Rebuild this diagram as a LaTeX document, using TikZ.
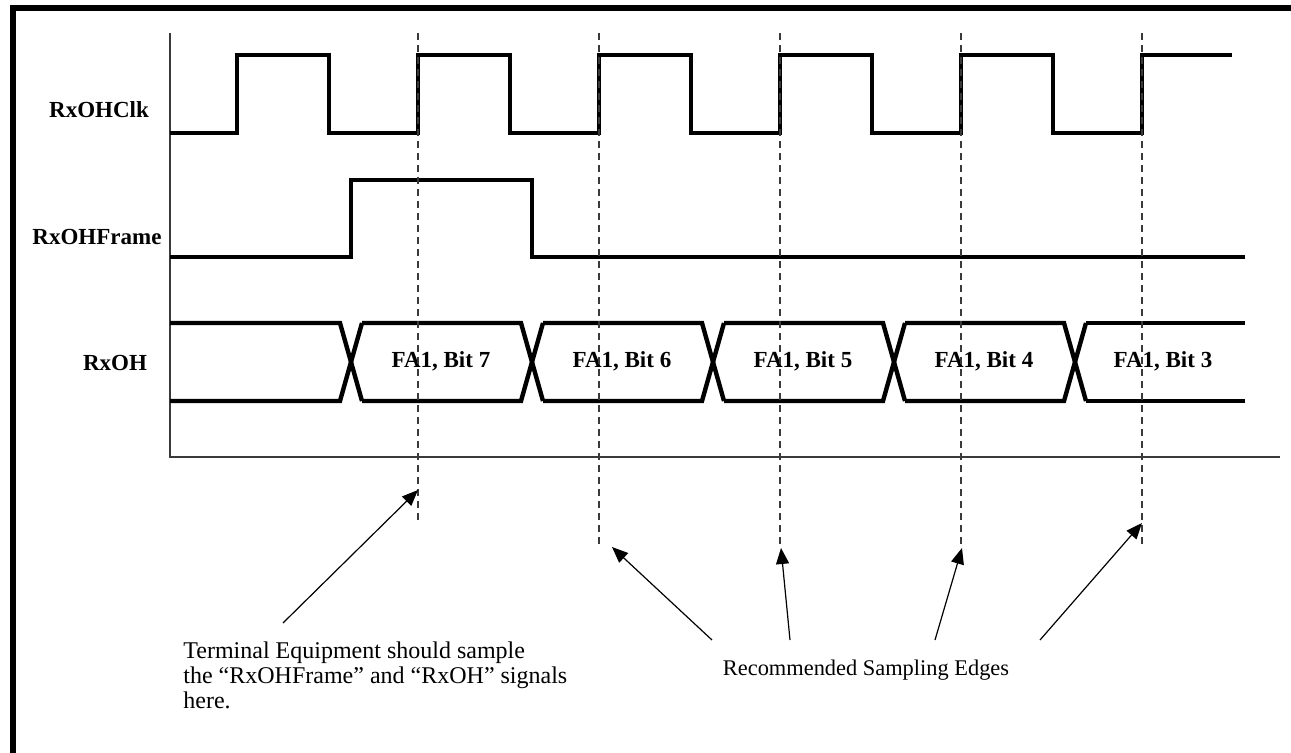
\documentclass[tikz,border=0pt]{standalone}
\usepackage{fontspec}
\setmainfont{Liberation Serif}
\usepackage{tikz}
\usetikzlibrary{arrows.meta}
\definecolor{cnegro}{HTML}{000000}
\definecolor{cgris}{HTML}{3a3a3a}
\tikzset{
  senal/.style={line width=2.2pt, draw=cnegro, line join=miter},
  marco/.style={line width=2.6pt, draw=cnegro},
  eje/.style={line width=0.7pt, draw=cgris},
  guia/.style={line width=0.7pt, draw=cgris, dash pattern=on 3.5pt off 2.5pt},
  flecha/.style={-{Triangle[length=8pt, width=6.5pt]}, line width=0.6pt, draw=cnegro},
  nombre/.style={font=\bfseries\fontsize{11.5}{13}\selectfont, inner sep=0pt},
  nota/.style={font=\fontsize{12}{12.5}\selectfont, align=left, inner sep=0pt},
}

\begin{document}
\begin{tikzpicture}[x=0.5pt, y=-0.5pt]
        \useasboundingbox (0,0) rectangle (1291,753);
        \draw[marco] (13,753) -- (13,8) -- (1291,8);
        \draw[eje] (170,33) -- (170,457) -- (1280,457);

        \node[nombre] (lclk) at (99,110) {RxOHClk};
        \node[nombre] (lframe) at (97,237) {RxOHFrame};
        \node[nombre] (loh) at (115,363) {RxOH};

        \draw[senal] (170,133) foreach \k in {0,...,4} {
          -- ({237+181*\k},133) -- ({237+181*\k},55) -- ({329+181*\k},55) -- ({329+181*\k},133)
        } -- (1142,133) -- (1142,55) -- (1232,55);
        \draw[senal] (170,257) -- (351,257) -- (351,180) -- (532,180) -- (532,257) -- (1245,257);

        \foreach \c/\p in {351/170, 532/362, 713/543, 894/724, 1075/905} {
          \draw[senal] (\p,323) -- ({\c-11},323) -- ({\c+11},401);
          \draw[senal] (\p,401) -- ({\c-11},401) -- ({\c+11},323);
        }
        \draw[senal] (1086,323) -- (1245,323);
        \draw[senal] (1086,401) -- (1245,401);
        \foreach \m/\b in {441/7, 622/6, 803/5, 984/4, 1163/3}
          \node[nombre, anchor=base] (bit\b) at (\m,368) {FA1, Bit \b};

        \foreach \x/\y in {418/520, 599/545, 780/545, 961/545, 1142/547}
          \draw[guia] (\x,33) -- (\x,\y);

        \node[nota, anchor=north west] (nterm) at (183,641)
          {Terminal Equipment should sample\\ the “RxOHFrame” and “RxOH” signals\\ here.};
        \node[nota, font=\fontsize{11.2}{12}\selectfont, anchor=base] (nrec) at (866,675)
          {Recommended Sampling Edges};

        \coordinate (p7) at (418,490);
        \coordinate (p6) at (612,547);
        \coordinate (p5) at (781,548);
        \coordinate (p4) at (962,548);
        \coordinate (p3) at (1142,523);
        \coordinate (tterm) at (283,623);
        \coordinate (t6) at (712,640);
        \coordinate (t5) at (790,640);
        \coordinate (t4) at (935,640);
        \coordinate (t3) at (1040,640);

        \draw[flecha] (tterm) -- (p7);
        \draw[flecha] (t6) -- (p6);
        \draw[flecha] (t5) -- (p5);
        \draw[flecha] (t4) -- (p4);
        \draw[flecha] (t3) -- (p3);
    \end{tikzpicture}
\end{document}
